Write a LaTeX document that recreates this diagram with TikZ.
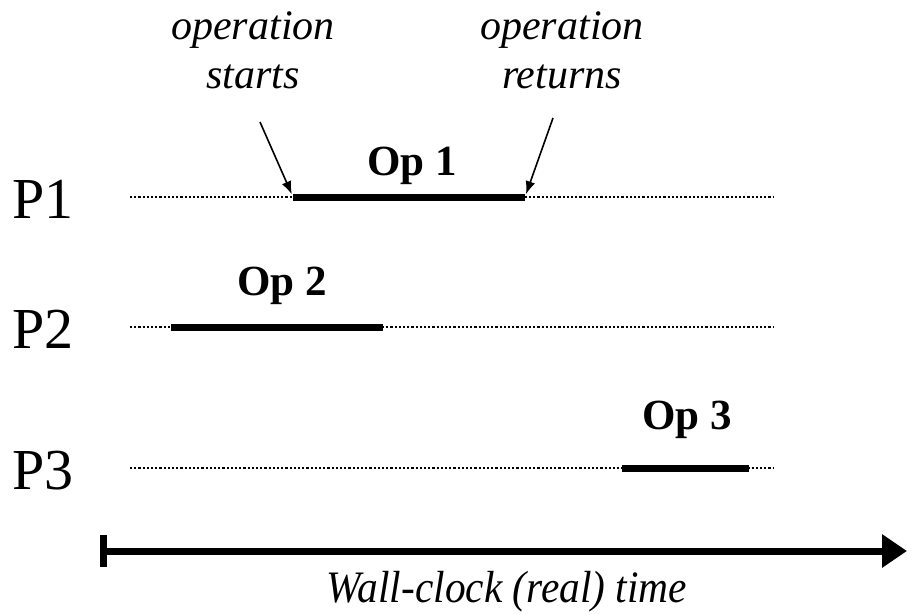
\documentclass[tikz,border=0pt]{standalone}
\usepackage{fontspec}
\setmainfont{Liberation Serif}
\usetikzlibrary{arrows.meta}
\tikzset{
        % Dotted life line of a process
        timeline/.style={dash pattern=on 2.2pt off 2pt, line width=2.4pt},
        % Interval of an operation
        oper/.style={line width=7pt},
        % Labels
        proc_label/.style={anchor=base west, inner sep=0pt, font=\fontsize{58}{60}\selectfont},
        op_label/.style={anchor=base, inner sep=0pt, font=\fontsize{43}{48}\selectfont\bfseries},
        note_label/.style={align=center, inner sep=0pt, font=\fontsize{42}{49}\selectfont\itshape},
        note_arrow/.style={-{Latex[length=13pt,width=10pt]}, line width=1.6pt, shorten >=3pt},
        % Wall-clock axis
        time_axis/.style={line width=7pt, {Bar[width=32pt]}-{Triangle[length=25pt,width=32pt]}}
}

\begin{document}
\begin{tikzpicture}[x=1pt, y=-1pt]
            \useasboundingbox (0,0) rectangle (907,613);
            % Processes
            \foreach \p/\y in {1/197, 2/327, 3/468} {
                \node[proc_label] (P\p) at (12,\y+21) {P\p};
                \coordinate (line\p s) at (130,\y);
                \coordinate (line\p e) at (773,\y);
                \draw[timeline] (line\p s) -- (line\p e);
            }
            % Operations
            \coordinate (op1s) at (293,197);
            \coordinate (op1e) at (525,197);
            \coordinate (op2s) at (171,327);
            \coordinate (op2e) at (383,327);
            \coordinate (op3s) at (622,468);
            \coordinate (op3e) at (749,468);
            \foreach \o in {1,2,3}
                \draw[oper] (op\o s) -- (op\o e);
            \node[op_label] (op1) at (412,175) {Op 1};
            \node[op_label] (op2) at (282,295) {Op 2};
            \node[op_label] (op3) at (687,429) {Op 3};
            % Start and return of Op 1 (base = last line)
            \node[note_label, anchor=base] (starts) at (253,88) {operation\\starts};
            \node[note_label, anchor=base] (returns) at (562,88) {operation\\returns};
            \coordinate (starts_tail) at (260,122);
            \coordinate (returns_tail) at (553,118);
            \draw[note_arrow] (starts_tail) -- (op1s);
            \draw[note_arrow] (returns_tail) -- (op1e);
            % Time axis
            \coordinate (t0) at (100,551);
            \coordinate (t1) at (907,551);
            \draw[time_axis] (t0) -- (t1);
            \node[note_label, anchor=base, font=\fontsize{45}{50}\selectfont\itshape] (wall) at (507,602)
                {\scalebox{0.92}[1]{Wall-clock (real) time}};
\end{tikzpicture}
\end{document}
